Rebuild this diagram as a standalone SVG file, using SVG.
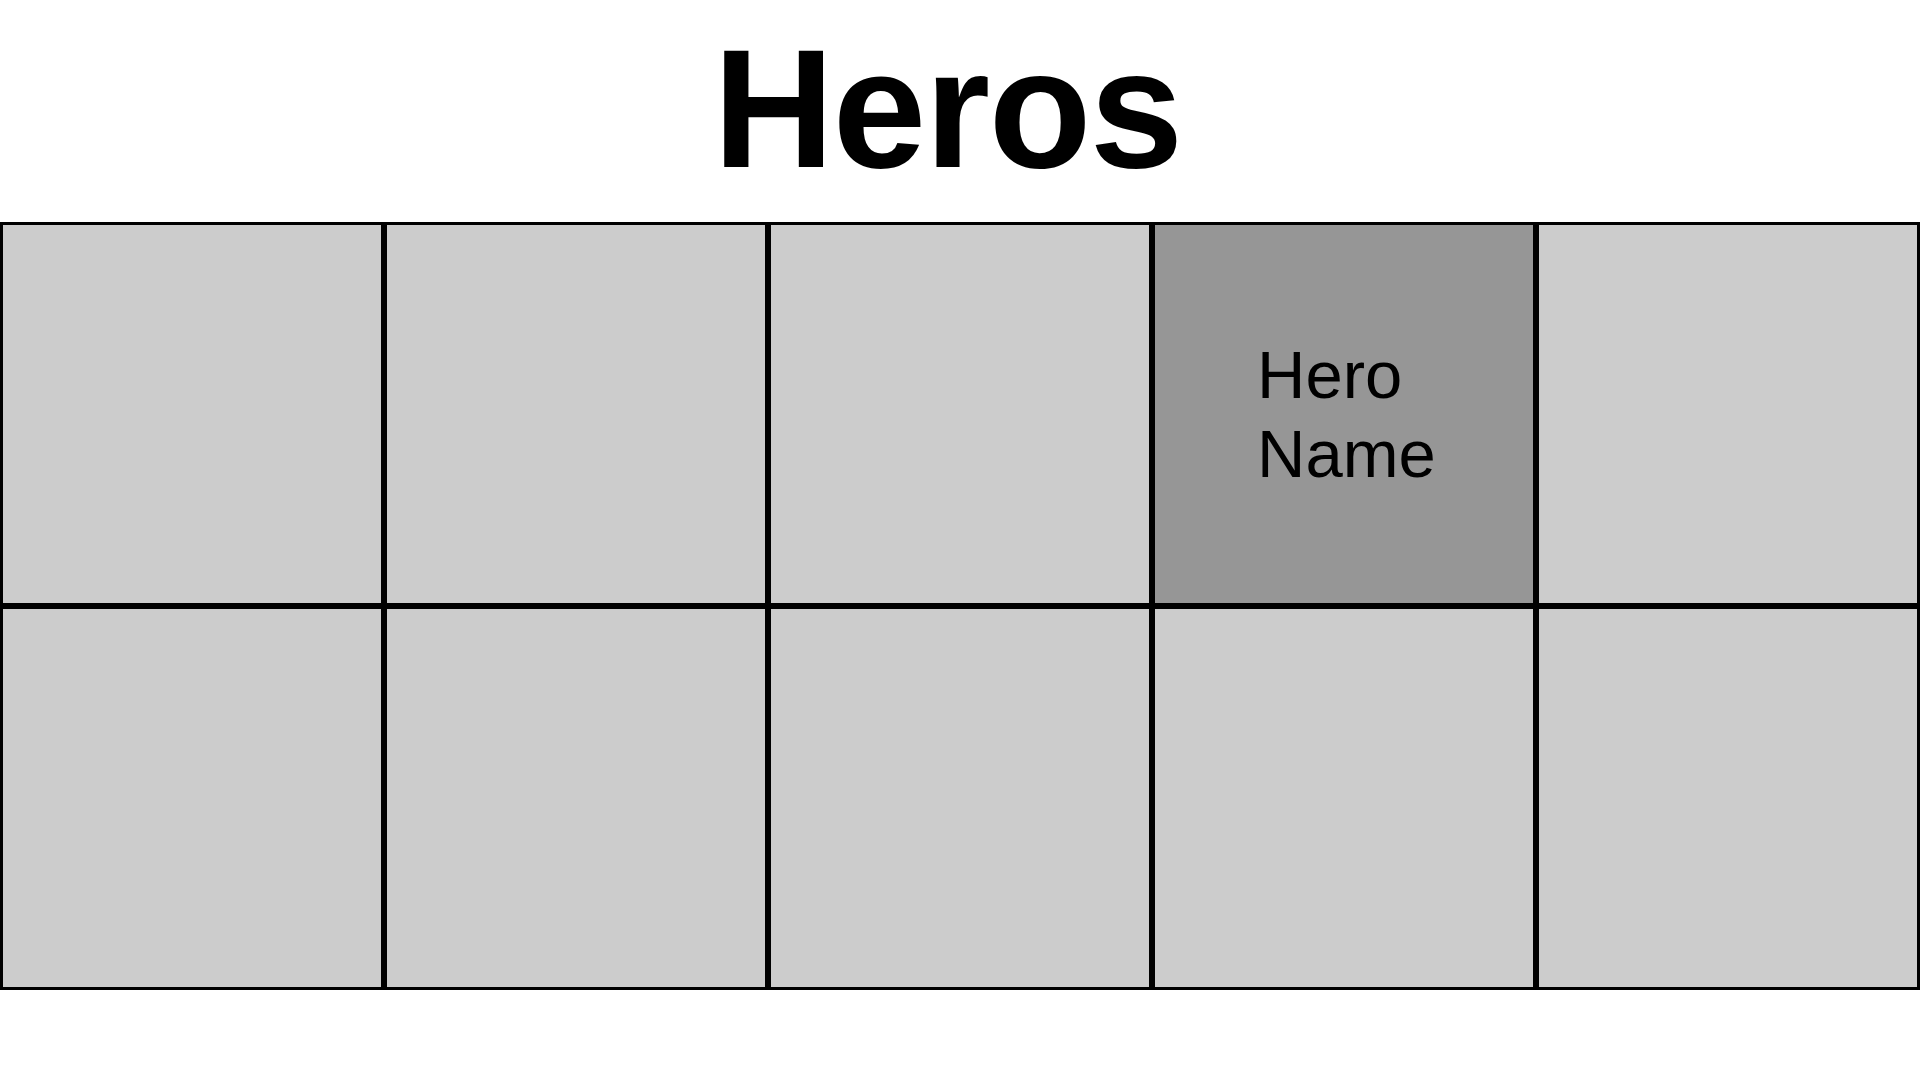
<svg xmlns="http://www.w3.org/2000/svg" width="1920" height="1080" viewBox="0 0 1920 1080">
<style>
.cell{fill:#cccccc;stroke:#000;stroke-width:3}
.sel{fill:#969696;stroke:#000;stroke-width:3}
.title{font-family:"Liberation Sans",Arial,sans-serif;font-weight:bold;font-size:168px;fill:#000;letter-spacing:-1.5px}
.lbl{font-family:"Liberation Sans",Arial,sans-serif;font-size:67px;fill:#000}
</style>
<rect width="1920" height="1080" fill="#fff"/>
<text class="title" x="713" y="167">Heros</text>
<g id="cell-1-1"><rect class="cell" x="1.5" y="223.5" width="381" height="381"/></g>
<g id="cell-1-2"><rect class="cell" x="385.5" y="223.5" width="381" height="381"/></g>
<g id="cell-1-3"><rect class="cell" x="769.5" y="223.5" width="381" height="381"/></g>
<g id="cell-1-4"><rect class="sel" x="1153.5" y="223.5" width="381" height="381"/>
<text class="lbl" x="1257" y="398">Hero</text>
<text class="lbl" x="1257" y="477">Name</text></g>
<g id="cell-1-5"><rect class="cell" x="1537.5" y="223.5" width="381" height="381"/></g>
<g id="cell-2-1"><rect class="cell" x="1.5" y="607.5" width="381" height="381"/></g>
<g id="cell-2-2"><rect class="cell" x="385.5" y="607.5" width="381" height="381"/></g>
<g id="cell-2-3"><rect class="cell" x="769.5" y="607.5" width="381" height="381"/></g>
<g id="cell-2-4"><rect class="cell" x="1153.5" y="607.5" width="381" height="381"/></g>
<g id="cell-2-5"><rect class="cell" x="1537.5" y="607.5" width="381" height="381"/></g>
<g id="connectors"></g>
</svg>
